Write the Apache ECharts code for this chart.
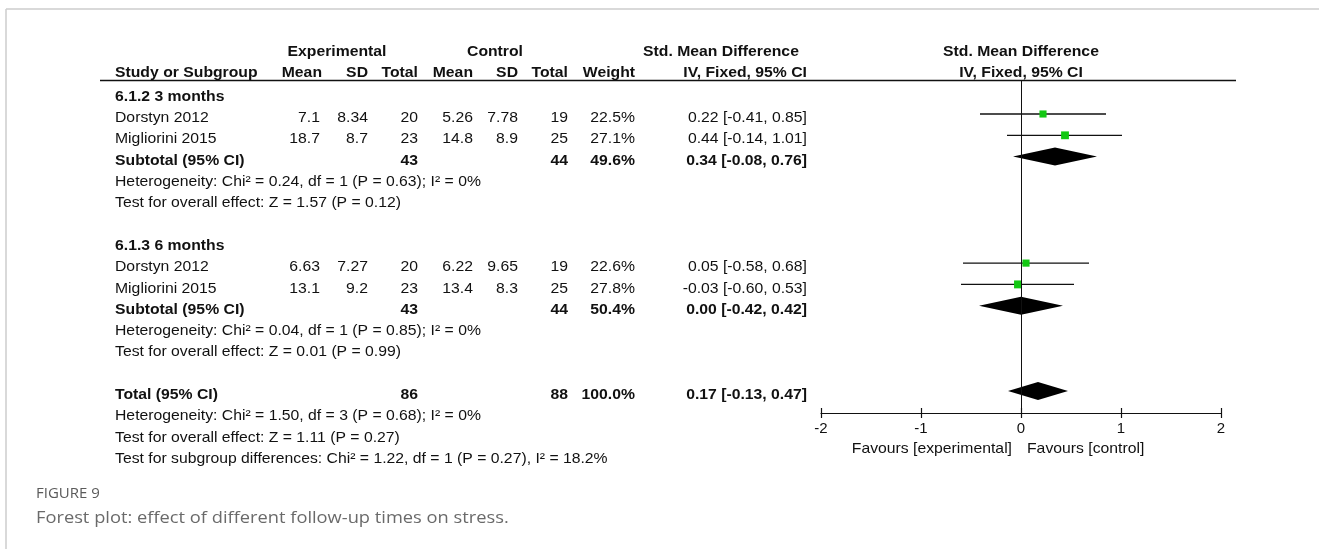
<!DOCTYPE html>
<html>
<head>
<meta charset="utf-8">
<script src="https://cdn.jsdelivr.net/npm/echarts@6/dist/echarts.min.js"></script>
<style>
  html, body { margin: 0; padding: 0; background: #fff; }
  #chart { width: 1319px; height: 549px; }
</style>
</head>
<body>
<div id="chart"></div>
<script>
// ---- Study-level data ----
const studyNames  = ['Dorstyn 2012', 'Migliorini 2015', 'Dorstyn 2012', 'Migliorini 2015'];
const studyRows   = [1, 2, 8, 9];
const expMean     = [7.1, 18.7, 6.63, 13.1];
const expSD       = [8.34, 8.7, 7.27, 9.2];
const expN        = [20, 23, 20, 23];
const ctlMean     = [5.26, 14.8, 6.22, 13.4];
const ctlSD       = [7.78, 8.9, 9.65, 8.3];
const ctlN        = [19, 25, 19, 25];
const studyWeight = [22.5, 27.1, 22.6, 27.8];
const studySMD    = [0.22, 0.44, 0.05, -0.03];
const studyLow    = [-0.41, -0.14, -0.58, -0.60];
const studyHigh   = [0.85, 1.01, 0.68, 0.53];

// ---- Pooled estimates (subtotals and total) ----
const pooledNames  = ['Subtotal (95% CI)', 'Subtotal (95% CI)', 'Total (95% CI)'];
const pooledRows   = [3, 10, 14];
const pooledExpN   = [43, 43, 86];
const pooledCtlN   = [44, 44, 88];
const pooledWeight = [49.6, 50.4, 100.0];
const pooledSMD    = [0.34, 0.00, 0.17];
const pooledLow    = [-0.08, -0.42, -0.13];
const pooledHigh   = [0.76, 0.42, 0.47];

// ---- Subgroup headings and test statistics ----
const subgroupTitles = ['6.1.2 3 months', '6.1.3 6 months'];
const subgroupRows   = [0, 7];
const statLines = [
  'Heterogeneity: Chi\u00b2 = 0.24, df = 1 (P = 0.63); I\u00b2 = 0%',
  'Test for overall effect: Z = 1.57 (P = 0.12)',
  'Heterogeneity: Chi\u00b2 = 0.04, df = 1 (P = 0.85); I\u00b2 = 0%',
  'Test for overall effect: Z = 0.01 (P = 0.99)',
  'Heterogeneity: Chi\u00b2 = 1.50, df = 3 (P = 0.68); I\u00b2 = 0%',
  'Test for overall effect: Z = 1.11 (P = 0.27)',
  'Test for subgroup differences: Chi\u00b2 = 1.22, df = 1 (P = 0.27), I\u00b2 = 18.2%'
];
const statRows = [4, 5, 11, 12, 15, 16, 17];

const axisTicks = [-2, -1, 0, 1, 2];
const favourLeft = 'Favours [experimental]';
const favourRight = 'Favours [control]';

// ---- Layout ----
const FONT = '"Liberation Sans", Arial, sans-serif';
const TEXT_PX = 15;
const TEXT_STRETCH = 1.05;
const INK = '#111';
const BOX_GREEN = '#12c812';
const ROW0_Y = 92.7, ROW_PX = 21.3;   // centre of mark row 0, row pitch
const TEXT_DY = 4;                    // table text sits slightly below the mark centre
const PLOT_LEFT = 821, PLOT_W = 400, PLOT_TOP = 80, AXIS_Y = 413;
const TABLE_MIN = -3, TABLE_MAX = 18;
const BOX_K = 1.5;           // box side = BOX_K * sqrt(weight %)
const DIAMOND_HALF = 9;      // px
const rowAt = y => (y - ROW0_Y) / ROW_PX;
const zeroX = PLOT_LEFT + PLOT_W / 2;

// column anchors (table grid uses 1 unit = 1 px across the page)
const COL = {
  study: 115, expMean: 320, expSD: 368, expN: 418,
  ctlMean: 473, ctlSD: 518, ctlN: 568, weight: 635, ci: 807
};
const HEAD1 = rowAt(52 - TEXT_DY), HEAD2 = rowAt(73 - TEXT_DY), FAVOUR_ROW = rowAt(449 - TEXT_DY);

const fmt2 = v => v.toFixed(2);
const ciText = (m, l, h) => fmt2(m) + ' [' + fmt2(l) + ', ' + fmt2(h) + ']';

// ---- Build table text items ----
const tableTexts = [];
function addText(text, x, row, align, bold) {
  tableTexts.push({ text: String(text), x, row, align, bold: !!bold });
}
addText('Experimental', 337, HEAD1, 'center', true);
addText('Control', 495, HEAD1, 'center', true);
addText('Std. Mean Difference', 721, HEAD1, 'center', true);
addText('Std. Mean Difference', zeroX, HEAD1, 'center', true);
addText('Study or Subgroup', COL.study, HEAD2, 'left', true);
addText('Mean', COL.expMean + 2, HEAD2, 'right', true);
addText('SD', COL.expSD, HEAD2, 'right', true);
addText('Total', COL.expN, HEAD2, 'right', true);
addText('Mean', COL.ctlMean, HEAD2, 'right', true);
addText('SD', COL.ctlSD, HEAD2, 'right', true);
addText('Total', COL.ctlN, HEAD2, 'right', true);
addText('Weight', COL.weight, HEAD2, 'right', true);
addText('IV, Fixed, 95% CI', COL.ci, HEAD2, 'right', true);
addText('IV, Fixed, 95% CI', zeroX, HEAD2, 'center', true);

subgroupTitles.forEach((t, i) => addText(t, COL.study, subgroupRows[i], 'left', true));
studyNames.forEach((name, i) => {
  const r = studyRows[i];
  addText(name, COL.study, r, 'left');
  addText(expMean[i], COL.expMean, r, 'right');
  addText(expSD[i], COL.expSD, r, 'right');
  addText(expN[i], COL.expN, r, 'right');
  addText(ctlMean[i], COL.ctlMean, r, 'right');
  addText(ctlSD[i], COL.ctlSD, r, 'right');
  addText(ctlN[i], COL.ctlN, r, 'right');
  addText(studyWeight[i].toFixed(1) + '%', COL.weight, r, 'right');
  addText(ciText(studySMD[i], studyLow[i], studyHigh[i]), COL.ci, r, 'right');
});
pooledNames.forEach((name, i) => {
  const r = pooledRows[i];
  addText(name, COL.study, r, 'left', true);
  addText(pooledExpN[i], COL.expN, r, 'right', true);
  addText(pooledCtlN[i], COL.ctlN, r, 'right', true);
  addText(pooledWeight[i].toFixed(1) + '%', COL.weight, r, 'right', true);
  addText(ciText(pooledSMD[i], pooledLow[i], pooledHigh[i]), COL.ci, r, 'right', true);
});
statLines.forEach((t, i) => addText(t, COL.study, statRows[i], 'left'));
addText(favourLeft, zeroX - 9, FAVOUR_ROW, 'right');
addText(favourRight, zeroX + 6, FAVOUR_ROW, 'left');

function renderTableText(params, api) {
  const t = tableTexts[params.dataIndex];
  const p = api.coord([t.x, t.row]);
  return {
    type: 'text',
    x: p[0], y: p[1] + TEXT_DY,
    scaleX: TEXT_STRETCH,
    style: {
      text: t.text,
      textAlign: t.align, align: t.align,
      textVerticalAlign: 'middle', verticalAlign: 'middle',
      font: (t.bold ? 'bold ' : '') + TEXT_PX + 'px ' + FONT,
      fill: INK
    }
  };
}

// study: CI whisker plus weight-sized box
function renderStudy(params, api) {
  const row = api.value(1);
  const c = api.coord([api.value(0), row]);
  const lo = api.coord([api.value(2), row]);
  const hi = api.coord([api.value(3), row]);
  const s = BOX_K * Math.sqrt(api.value(4));
  return {
    type: 'group',
    children: [
      { type: 'line', shape: { x1: lo[0], y1: lo[1], x2: hi[0], y2: hi[1] },
        style: { stroke: INK, lineWidth: 1.3 } },
      { type: 'rect', shape: { x: c[0] - s / 2, y: c[1] - s / 2, width: s, height: s },
        style: { fill: BOX_GREEN } }
    ]
  };
}

// pooled estimate: diamond from lower to upper limit
function renderPooled(params, api) {
  const row = api.value(1);
  const c = api.coord([api.value(0), row]);
  const lo = api.coord([api.value(2), row]);
  const hi = api.coord([api.value(3), row]);
  return {
    type: 'polygon',
    shape: { points: [[lo[0], lo[1]], [c[0], c[1] - DIAMOND_HALF], [hi[0], hi[1]], [c[0], c[1] + DIAMOND_HALF]] },
    style: { fill: '#000' }
  };
}

const chart = echarts.init(document.getElementById('chart'), null, { renderer: 'canvas' });
chart.setOption({
  animation: false,
  backgroundColor: '#fff',
  grid: [
    { left: PLOT_LEFT, top: PLOT_TOP, width: PLOT_W, height: AXIS_Y - PLOT_TOP, containLabel: false },
    { left: 0, top: ROW0_Y + TABLE_MIN * ROW_PX, width: 1319, height: (TABLE_MAX - TABLE_MIN) * ROW_PX, containLabel: false }
  ],
  xAxis: [
    {
      gridIndex: 0, type: 'value', position: 'bottom',
      min: axisTicks[0], max: axisTicks[axisTicks.length - 1], interval: 1,
      splitLine: { show: false },
      axisLine: { show: true, onZero: false, lineStyle: { color: INK, width: 1.2 } },
      axisTick: { show: true, inside: true, length: 5, lineStyle: { color: INK, width: 1.2 } },
      axisLabel: { show: true, margin: 8, color: INK, fontSize: TEXT_PX, fontFamily: FONT }
    },
    {
      gridIndex: 0, type: 'value', position: 'bottom',
      min: axisTicks[0], max: axisTicks[axisTicks.length - 1], interval: 1,
      splitLine: { show: false },
      axisLine: { show: false, onZero: false },
      axisTick: { show: true, inside: false, length: 5, lineStyle: { color: INK, width: 1.2 } },
      axisLabel: { show: false }
    },
    { gridIndex: 1, type: 'value', min: 0, max: 1319, show: false }
  ],
  yAxis: [
    { gridIndex: 0, type: 'value', inverse: true, min: rowAt(PLOT_TOP), max: rowAt(AXIS_Y), show: false },
    { gridIndex: 1, type: 'value', inverse: true, min: TABLE_MIN, max: TABLE_MAX, show: false }
  ],
  series: [
    {
      type: 'custom', name: 'Studies', xAxisIndex: 0, yAxisIndex: 0,
      encode: { x: 0, y: 1 },
      renderItem: renderStudy,
      data: studySMD.map((v, i) => [v, studyRows[i], studyLow[i], studyHigh[i], studyWeight[i]]),
      markLine: {
        silent: true, symbol: ['none', 'none'], label: { show: false },
        lineStyle: { color: INK, width: 1, type: 'solid' },
        emphasis: { disabled: true },
        data: [{ xAxis: 0 }]
      },
      z: 3
    },
    {
      type: 'custom', name: 'Pooled', xAxisIndex: 0, yAxisIndex: 0,
      encode: { x: 0, y: 1 },
      renderItem: renderPooled,
      data: pooledSMD.map((v, i) => [v, pooledRows[i], pooledLow[i], pooledHigh[i]]),
      z: 4
    },
    {
      type: 'custom', name: 'Table', xAxisIndex: 2, yAxisIndex: 1,
      encode: { x: 0, y: 1 },
      renderItem: renderTableText,
      data: tableTexts.map(t => [t.x, t.row]),
      silent: true, z: 5
    }
  ],
  graphic: [
    // page frame
    { type: 'line', shape: { x1: 6, y1: 9, x2: 1319, y2: 9 }, style: { stroke: '#cdcdcd', lineWidth: 1.5 }, silent: true },
    { type: 'line', shape: { x1: 6, y1: 9, x2: 6, y2: 549 }, style: { stroke: '#cdcdcd', lineWidth: 1.5 }, silent: true },
    // header rule
    { type: 'line', shape: { x1: 100, y1: 80.5, x2: 1236, y2: 80.5 }, style: { stroke: INK, lineWidth: 1.3 }, silent: true },
    // caption
    { type: 'text', x: 36, y: 494, style: { text: 'FIGURE 9', font: '15px "Open Sans", sans-serif', fill: '#5a5a5a', verticalAlign: 'middle', textVerticalAlign: 'middle' }, silent: true },
    { type: 'text', x: 36, y: 518, scaleX: 1.075, style: { text: 'Forest plot: effect of different follow-up times on stress.', font: '17px "Open Sans", sans-serif', fill: '#6a6a6a', verticalAlign: 'middle', textVerticalAlign: 'middle' }, silent: true }
  ]
});
</script>
</body>
</html>
